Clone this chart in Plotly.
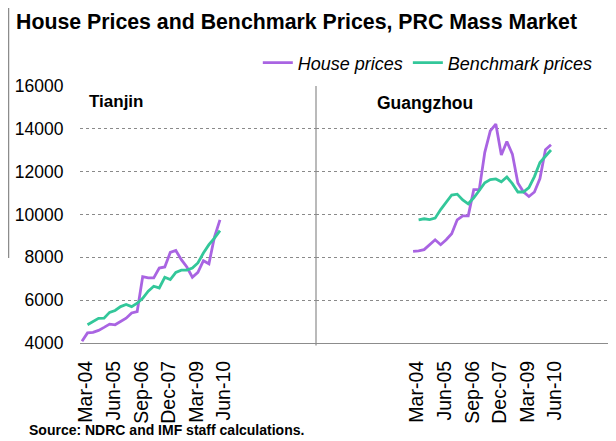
import plotly.graph_objects as go

quarters = ["Mar-04", "Jun-04", "Sep-04", "Dec-04", "Mar-05", "Jun-05", "Sep-05", "Dec-05",
            "Mar-06", "Jun-06", "Sep-06", "Dec-06", "Mar-07", "Jun-07", "Sep-07", "Dec-07",
            "Mar-08", "Jun-08", "Sep-08", "Dec-08", "Mar-09", "Jun-09", "Sep-09", "Dec-09",
            "Mar-10", "Jun-10"]
tick_labels = ["Mar-04", "Jun-05", "Sep-06", "Dec-07", "Mar-09", "Jun-10"]

tianjin_house = [4080, 4470, 4500, 4590, 4730, 4880, 4850, 5010, 5160, 5400, 5470, 7100, 7040,
                 7040, 7500, 7550, 8230, 8320, 7890, 7550, 7070, 7300, 7840, 7700, 8950, 9750]
tianjin_bench = [None, 4850, 5010, 5150, 5160, 5430, 5520, 5700, 5800, 5700, 5860, 6090, 6420,
                 6650, 6570, 7070, 6960, 7300, 7400, 7400, 7500, 7740, 8200, 8590, 8900, 9250]
guangzhou_house = [8280, 8300, 8360, 8590, 8820, 8590, 8820, 9100, 9750, 9940, 9940, 11160, 11160,
                   12900, 13900, 14220, 12780, 13410, 12820, 11470, 11060, 10840, 11050, 11680, 13030, 13260]
guangzhou_bench = [None, 9750, 9800, 9760, 9830, 10230, 10600, 10910, 10950, 10680, 10500, 10780, 11120,
                   11480, 11630, 11660, 11530, 11750, 11440, 11050, 11050, 11260, 11770, 12430, 12720, 13010]

PURPLE = "#A964E2"
GREEN = "#33C79A"
FONT = "Liberation Sans, Arial, sans-serif"

fig = go.Figure()
fig.add_trace(go.Scatter(x=quarters, y=tianjin_house, mode="lines", name="House prices",
                         line=dict(color=PURPLE, width=2.8), xaxis="x", yaxis="y"))
fig.add_trace(go.Scatter(x=quarters, y=tianjin_bench, mode="lines", name="Benchmark prices",
                         line=dict(color=GREEN, width=2.8), xaxis="x", yaxis="y"))
fig.add_trace(go.Scatter(x=quarters, y=guangzhou_house, mode="lines", name="House prices",
                         line=dict(color=PURPLE, width=2.8), xaxis="x2", yaxis="y2", showlegend=False))
fig.add_trace(go.Scatter(x=quarters, y=guangzhou_bench, mode="lines", name="Benchmark prices",
                         line=dict(color=GREEN, width=2.8), xaxis="x2", yaxis="y2", showlegend=False))

PW, PH = 530, 257
split = 236 / PW
xcommon = dict(type="category", categoryorder="array", categoryarray=quarters,
               tickmode="array", tickvals=tick_labels, tickangle=-90,
               tickfont=dict(family=FONT, size=19.5, color="black"),
               ticks="outside", ticklen=9, tickcolor="rgba(0,0,0,0)", ticklabelshift=4,
               showgrid=False, zeroline=False, showline=True, linecolor="#8c8c8c", linewidth=1.2)
ycommon = dict(range=[4000, 16000], dtick=2000, tickformat="d", showgrid=True, gridcolor="#8a8a8a",
               griddash="dot", gridwidth=1, zeroline=False, showline=False)

# the page body adds an 8px offset, so the figure is 8px smaller and margins shifted
fig.update_layout(
    width=608, height=433,
    margin=dict(l=72, r=6, t=78, b=98),
    paper_bgcolor="white", plot_bgcolor="white",
    font=dict(family=FONT, color="black"),
    xaxis=dict(domain=[0, split], range=[-0.36, 42.4], anchor="y", **xcommon),
    xaxis2=dict(domain=[split, 1], range=[-17.6, 35.7], anchor="y2", **xcommon),
    yaxis=dict(anchor="x", tickfont=dict(family=FONT, size=17.5, color="black"),
               ticks="outside", ticklen=12, tickcolor="rgba(0,0,0,0)", **ycommon),
    yaxis2=dict(anchor="x2", matches="y", showticklabels=False, **ycommon),
    showlegend=True,
    legend=dict(orientation="h", x=0.977, xanchor="right", y=1 + 23 / PH, yanchor="middle",
                font=dict(family=FONT, size=18, color="black", style="italic"),
                bgcolor="rgba(0,0,0,0)", itemwidth=30, tracegroupgap=0),
    annotations=[
        dict(text="<b>House Prices and Benchmark Prices, PRC Mass Market</b>", xref="paper", yref="paper",
             x=-66 / PW, y=1 + 78 / PH, xanchor="left", yanchor="top", showarrow=False,
             font=dict(family=FONT, size=21.3, color="black")),
        dict(text="<b>Tianjin</b>", xref="paper", yref="paper", x=7 / PW, y=1 - 15 / PH,
             xanchor="left", yanchor="middle", showarrow=False, font=dict(family=FONT, size=17, color="black")),
        dict(text="<b>Guangzhou</b>", xref="paper", yref="paper", x=295 / PW, y=1 - 17 / PH,
             xanchor="left", yanchor="middle", showarrow=False, font=dict(family=FONT, size=17.5, color="black")),
        dict(text="<b>Source: NDRC and IMF staff calculations.</b>", xref="paper", yref="paper",
             x=-53 / PW, y=-87 / PH, xanchor="left", yanchor="middle", showarrow=False,
             font=dict(family=FONT, size=14, color="black")),
    ],
    shapes=[
        dict(type="line", xref="paper", yref="paper", x0=split, x1=split, y0=-0.01, y1=1,
             line=dict(color="#8c8c8c", width=1.2)),
        dict(type="line", xref="paper", yref="paper", x0=-71.5 / PW, x1=-71.5 / PW, y0=1 + 78 / PH,
             y1=1 - 172 / PH, line=dict(color="#8c8c8c", width=1.5)),
    ],
)

fig.write_html("out.html")
